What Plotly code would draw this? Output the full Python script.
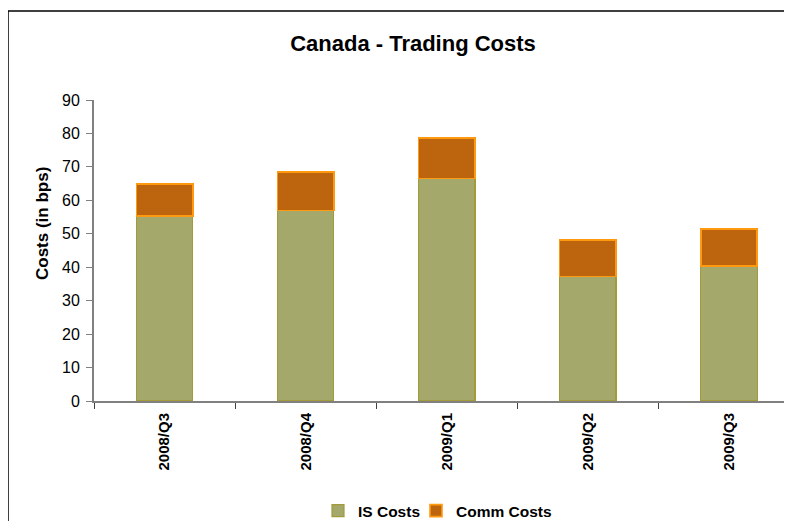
import plotly.graph_objects as go

categories = ["2008/Q3", "2008/Q4", "2009/Q1", "2009/Q2", "2009/Q3"]
is_costs = [55.4, 57.0, 66.5, 37.2, 40.4]
comm_costs = [9.5, 11.5, 12.2, 10.9, 11.0]
y_ticks = [0, 10, 20, 30, 40, 50, 60, 70, 80, 90]

FONT = "Liberation Sans, Arial, sans-serif"

# the page places the figure at (8, 8) in the window; the figure may run past the window
OFF = 8
W, H = 800, 540
PL, PT, PB = 94, 100, 401          # plot area edges in window pixels
PR = OFF + W                       # plot right edge in window pixels
PW = PR - PL
PH = PB - PT
CAT_W = 141.1                      # pixels per category in the reference


def px(wx):
    return (wx - PL) / PW


def py(wy):
    return (PB - wy) / PH


fig = go.Figure()
fig.add_trace(go.Bar(
    x=categories, y=is_costs, name="<b>IS Costs</b>", legend="legend",
    marker=dict(color="#A4A96B", line=dict(color="#A39A3A", width=1.2)),
))
fig.add_trace(go.Bar(
    x=categories, y=comm_costs, name="<b>Comm Costs</b>", legend="legend2",
    marker=dict(color="#BD640E", line=dict(color="#FF9A10", width=1.6)),
))

legend_common = dict(orientation="h", xanchor="left", yanchor="middle",
                     y=py(511), font=dict(size=15.5, family=FONT), itemwidth=30,
                     bgcolor="rgba(0,0,0,0)")

fig.update_layout(
    barmode="stack",
    bargap=0.6,
    width=W, height=H,
    margin=dict(l=PL - OFF, r=W - (PR - OFF), t=PT - OFF, b=H - (PB - OFF), pad=0),
    paper_bgcolor="white", plot_bgcolor="white",
    font=dict(family=FONT, color="black"),
    title=dict(text="<b>Canada - Trading Costs</b>", x=(413 - OFF) / W, xanchor="center",
               y=1 - (43 - OFF) / H, yanchor="middle", font=dict(size=22, family=FONT)),
    showlegend=True,
    legend=dict(x=px(318), **legend_common),
    legend2=dict(x=px(416), **legend_common),
    shapes=[dict(type="rect", xref="paper", yref="paper",
                 x0=px(8), x1=px(812), y0=-0.7, y1=py(11),
                 line=dict(color="black", width=1.5), fillcolor="rgba(0,0,0,0)",
                 layer="below")],
    annotations=[dict(text="<b>Costs (in bps)</b>", xref="paper", yref="paper",
                      x=px(42), y=py(224), textangle=-90, showarrow=False,
                      xanchor="center", yanchor="middle",
                      font=dict(size=17, family=FONT))],
)

fig.update_xaxes(
    type="category", range=[-0.5, -0.5 + PW / CAT_W], automargin=False,
    tickson="boundaries", ticks="outside", ticklen=6, tickcolor="#404040", tickwidth=1,
    showline=True, linecolor="#808080", linewidth=2,
    tickangle=-90, tickfont=dict(size=15, family=FONT),
    ticklabelstandoff=4,
    tickvals=categories, ticktext=["<b>%s</b>" % c for c in categories],
    showgrid=False, zeroline=False,
)

fig.update_yaxes(
    range=[0, 90], tickvals=y_ticks, ticks="outside", ticklen=6, tickcolor="#808080",
    showline=True, linecolor="#808080", linewidth=2, automargin=False,
    tickfont=dict(size=16, family=FONT), ticklabelstandoff=3,
    showgrid=False, zeroline=False,
)

fig.write_html("out.html")
